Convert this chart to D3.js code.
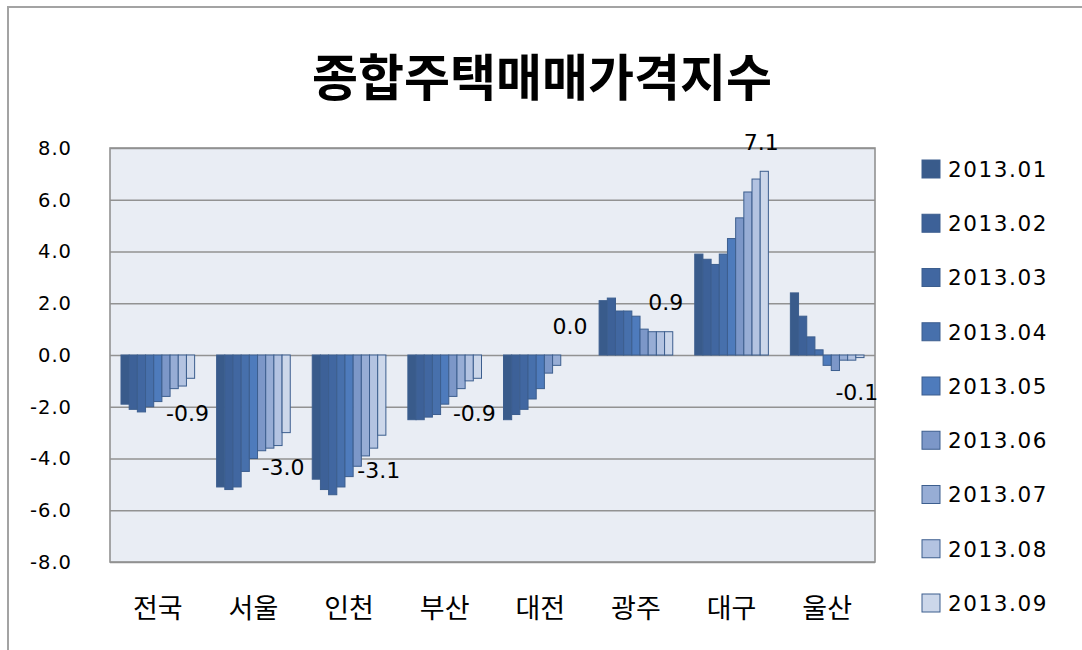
<!DOCTYPE html>
<html>
<head>
<meta charset="utf-8">
<script src="https://cdn.jsdelivr.net/npm/d3@7"></script>
<style>
  html, body { margin: 0; padding: 0; background: #fff; }
  svg { display: block; }
</style>
</head>
<body>
<svg id="chart" width="1082" height="650"></svg>
<script>
// regions on the x axis
var regions = ['전국', '서울', '인천', '부산', '대전', '광주', '대구', '울산']
// one series per month
var months = ['2013.01', '2013.02', '2013.03', '2013.04', '2013.05', '2013.06', '2013.07', '2013.08', '2013.09']

// values per region, Jan..Sep
var jeonguk  = [-1.9, -2.1, -2.2, -2.0, -1.8, -1.6, -1.3, -1.2, -0.9]
var seoul    = [-5.1, -5.2, -5.1, -4.5, -4.0, -3.7, -3.6, -3.5, -3.0]
var incheon  = [-4.8, -5.2, -5.4, -5.1, -4.7, -4.3, -3.9, -3.6, -3.1]
var busan    = [-2.5, -2.5, -2.4, -2.3, -1.9, -1.6, -1.3, -1.0, -0.9]
var daejeon  = [-2.5, -2.3, -2.1, -1.7, -1.3, -0.7, -0.4, 0.0, 0.0]
var gwangju  = [2.1, 2.2, 1.7, 1.7, 1.5, 1.0, 0.9, 0.9, 0.9]
var daegu    = [3.9, 3.7, 3.5, 3.9, 4.5, 5.3, 6.3, 6.8, 7.1]
var ulsan    = [2.4, 1.5, 0.7, 0.2, -0.4, -0.6, -0.2, -0.2, -0.1]

var yTicks = [-8, -6, -4, -2, 0, 2, 4, 6, 8]
var title = '종합주택매매가격지수'

var colors = ['#395b8b', '#3d6198', '#4167a1', '#4770ac', '#4e7bbc', '#7c97c8', '#97add5', '#b3c3e1', '#ccd7ea']

var table = [jeonguk, seoul, incheon, busan, daejeon, gwangju, daegu, ulsan]

// plain hyphen instead of the unicode minus
var fmt = v => d3.format('.1f')(v).replace('\u2212', '-')

var svg = d3.select('#chart')

// outer frame
svg.append('rect')
    .attr('x', 8).attr('y', 7)
    .attr('width', 1200).attr('height', 800)
    .attr('fill', 'none')
    .attr('stroke', '#a3a3a3')
    .attr('stroke-width', 2)

svg.append('text')
    .attr('x', 542).attr('y', 96)
    .attr('text-anchor', 'middle')
    .style('font-family', '"Noto Sans CJK KR", sans-serif')
    .style('font-weight', 'bold')
    .style('font-size', '50px')
    .text(title)

var plot = {left: 110, right: 875, top: 148, bottom: 562}

var x0 = d3.scaleBand()
    .domain(regions)
    .range([plot.left, plot.right])
    .paddingInner(0.23)
    .paddingOuter(0.115)

var x1 = d3.scaleBand()
    .domain(months)
    .range([0, x0.bandwidth()])

var y = d3.scaleLinear()
    .domain([-8, 8])
    .range([plot.bottom, plot.top])

// plot background
svg.append('rect')
    .attr('x', plot.left).attr('y', plot.top)
    .attr('width', plot.right - plot.left)
    .attr('height', plot.bottom - plot.top)
    .attr('fill', '#e9edf4')

// gridlines + y labels via axis
var yAxis = d3.axisLeft(y)
    .tickValues(yTicks)
    .tickSize(-(plot.right - plot.left))
    .tickPadding(38)
    .tickFormat(fmt)

var gy = svg.append('g')
    .attr('transform', `translate(${plot.left},0)`)
    .call(yAxis)

gy.select('.domain').remove()
gy.selectAll('.tick line')
    .attr('stroke', '#929292')
    .attr('stroke-width', 1.6)
gy.selectAll('.tick text')
    .attr('fill', '#000')
    .style('font-family', '"DejaVu Sans", sans-serif')
    .style('font-size', '19.5px')
    .style('letter-spacing', '1px')

// plot border
svg.append('rect')
    .attr('x', plot.left).attr('y', plot.top)
    .attr('width', plot.right - plot.left)
    .attr('height', plot.bottom - plot.top)
    .attr('fill', 'none')
    .attr('stroke', '#929292')
    .attr('stroke-width', 1.6)

// bars
var groups = svg.append('g').selectAll('g')
    .data(regions)
    .join('g')
    .attr('transform', d => `translate(${x0(d)},0)`)

groups.selectAll('rect')
    .data((d, i) => months.map((m, j) => ({month: m, value: table[i][j], idx: j})))
    .join('rect')
    .attr('x', d => x1(d.month))
    .attr('y', d => y(Math.max(0, d.value)))
    .attr('width', x1.bandwidth())
    .attr('height', d => Math.abs(y(d.value) - y(0)))
    .attr('fill', d => colors[d.idx])
    .attr('stroke', '#3c5e8e')
    .attr('stroke-width', 1)

// labels on the last month
var last = months[months.length - 1]
groups.append('text')
    .attr('x', x1(last) + x1.bandwidth() / 2 - 3)
    .attr('y', (d, i) => {
      var v = table[i][months.length - 1]
      return v < 0 ? y(v) + 35 : y(v) - 29
    })
    .attr('dy', '0.35em')
    .attr('text-anchor', 'middle')
    .style('font-family', '"DejaVu Sans", sans-serif')
    .style('font-size', '22px')
    .text((d, i) => fmt(table[i][months.length - 1]))

// x labels
svg.append('g').selectAll('text')
    .data(regions)
    .join('text')
    .attr('x', d => x0(d) + x0.bandwidth() / 2)
    .attr('y', 609)
    .attr('dy', '0.35em')
    .attr('text-anchor', 'middle')
    .style('font-family', '"Noto Sans CJK KR", sans-serif')
    .style('font-size', '27px')
    .text(d => d)

// legend
var legend = svg.append('g').selectAll('g')
    .data(months)
    .join('g')
    .attr('transform', (d, i) => `translate(922,${169 + i * 54.25})`)

legend.append('rect')
    .attr('x', 0).attr('y', -9)
    .attr('width', 18).attr('height', 18)
    .attr('fill', (d, i) => colors[i])
    .attr('stroke', '#3c5e8e')
    .attr('stroke-width', 1)

legend.append('text')
    .attr('x', 26)
    .attr('dy', '0.36em')
    .style('font-family', '"DejaVu Sans", sans-serif')
    .style('font-size', '21.5px')
    .style('letter-spacing', '1.6px')
    .text(d => d)
</script>
</body>
</html>
